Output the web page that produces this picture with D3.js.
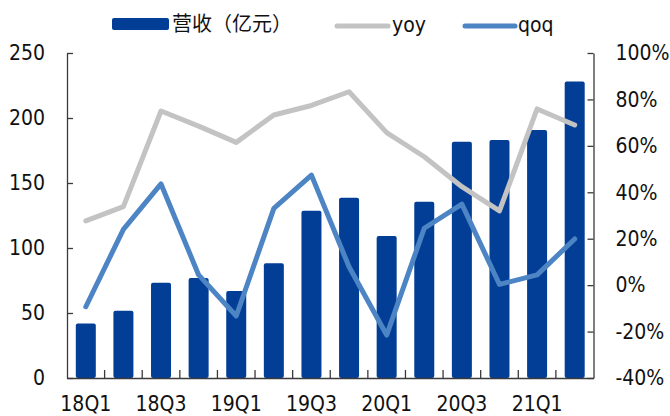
<!DOCTYPE html>
<html><head><meta charset="utf-8">
<script src="https://cdn.jsdelivr.net/npm/d3@7"></script>
<style>
html,body{margin:0;padding:0;background:#fff;}
svg{display:block;}
.tx{font-family:"DejaVu Sans Condensed","DejaVu Sans",sans-serif;}
</style></head>
<body><svg id="c" width="670" height="416"></svg>
<script>
const categories = ["18Q1","18Q2","18Q3","18Q4","19Q1","19Q2","19Q3","19Q4","20Q1","20Q2","20Q3","20Q4","21Q1","21Q2"];
const revenue = [42, 51.8, 73.3, 76.9, 66.9, 88.2, 128.7, 138.7, 109.2, 135.6, 181.8, 183, 190.8, 228];
const yoy = [27.7, 33.8, 75, 68.5, 61.5, 73.3, 77.4, 83.3, 65.7, 55.3, 42.4, 32, 75.9, 69];
const qoq = [-9.3, 24, 43.6, 4.4, -13.3, 33.1, 47.4, 7.9, -21.5, 24.5, 34.9, 0.3, 4.4, 19.9];
const leftTicks = [0, 50, 100, 150, 200, 250];
const rightTicks = [-40, -20, 0, 20, 40, 60, 80, 100];
const xLabels = ["18Q1","18Q3","19Q1","19Q3","20Q1","20Q3","21Q1"];
const legendNames = ["营收（亿元）","yoy","qoq"];

const colors = {bar:"#023E96", yoy:"#C3C3C3", qoq:"#4D84C4", axis:"#3a3a3a"};
const m = {left:67, right:593.5, top:53, bottom:378};
const svg = d3.select("#c");

const yL = d3.scaleLinear().domain([0,250]).range([m.bottom, m.top]);
const yR = d3.scaleLinear().domain([-40,100]).range([m.bottom, m.top]);
const xb = d3.scaleBand().domain(categories).range([m.left, m.right]);
const cx = d => xb(d) + xb.bandwidth()/2;

// bars
svg.append("g").selectAll("rect").data(revenue).join("rect")
  .attr("x",(d,i)=>cx(categories[i]) - 10)
  .attr("width",20)
  .attr("y",d=>yL(d))
  .attr("height",d=>yL(0)-yL(d))
  .attr("rx",2)
  .attr("fill",colors.bar);

// lines
const lineGen = sc => d3.line().x((d,i)=>cx(categories[i])).y(d=>sc(d));
svg.append("path").datum(yoy).attr("d",lineGen(yR)).attr("fill","none")
  .attr("stroke",colors.yoy).attr("stroke-width",5).attr("stroke-linejoin","round").attr("stroke-linecap","round");
svg.append("path").datum(qoq).attr("d",lineGen(yR)).attr("fill","none")
  .attr("stroke",colors.qoq).attr("stroke-width",5).attr("stroke-linejoin","round").attr("stroke-linecap","round");

// axes
const fontSize = 21;
const aL = d3.axisLeft(yL).tickValues(leftTicks).tickSizeInner(-6).tickSizeOuter(0).tickPadding(22).tickFormat(d3.format("d"));
const gL = svg.append("g").attr("transform",`translate(${m.left},0)`).call(aL);
const aR = d3.axisRight(yR).tickValues(rightTicks).tickSizeInner(-6).tickSizeOuter(0).tickPadding(22).tickFormat(d=>d+"%");
const gR = svg.append("g").attr("transform",`translate(${m.right},0)`).call(aR);
const aB = d3.axisBottom(xb).tickSize(0).tickFormat(d=>xLabels.includes(d)?d:"").tickPadding(18);
const gB = svg.append("g").attr("transform",`translate(0,${m.bottom})`).call(aB);
// category boundary ticks
const bounds = categories.slice(1).map(c=>xb(c));
svg.append("g").selectAll("line").data(bounds).join("line")
  .attr("x1",d=>d).attr("x2",d=>d).attr("y1",m.bottom).attr("y2",m.bottom-8)
  .attr("stroke",colors.axis).attr("stroke-width",1.3);

[gL,gR,gB].forEach(g=>{
  g.selectAll(".domain").attr("stroke",colors.axis).attr("stroke-width",1.3);
  g.selectAll(".tick line").attr("stroke",colors.axis).attr("stroke-width",1.3);
  g.selectAll("text").attr("class","tx").attr("font-size",fontSize).attr("fill","#111");
});
gB.selectAll("text").attr("dy","0.71em");

// legend
const lg = svg.append("g");
lg.append("rect").attr("x",112).attr("y",18).attr("width",57).attr("height",12).attr("rx",2).attr("fill",colors.bar);
lg.append("text").attr("x",172).attr("y",31).attr("font-family","'Noto Sans CJK SC',sans-serif").attr("font-size",20).attr("fill","#111").text(legendNames[0]);
lg.append("line").attr("x1",337).attr("x2",388).attr("y1",26).attr("y2",26).attr("stroke",colors.yoy).attr("stroke-width",5).attr("stroke-linecap","round");
lg.append("text").attr("class","tx").attr("x",392).attr("y",32).attr("font-size",fontSize).attr("fill","#111").text(legendNames[1]);
lg.append("line").attr("x1",465).attr("x2",515).attr("y1",26).attr("y2",26).attr("stroke",colors.qoq).attr("stroke-width",5).attr("stroke-linecap","round");
lg.append("text").attr("class","tx").attr("x",518).attr("y",32).attr("font-size",fontSize).attr("fill","#111").text(legendNames[2]);
</script></body></html>
